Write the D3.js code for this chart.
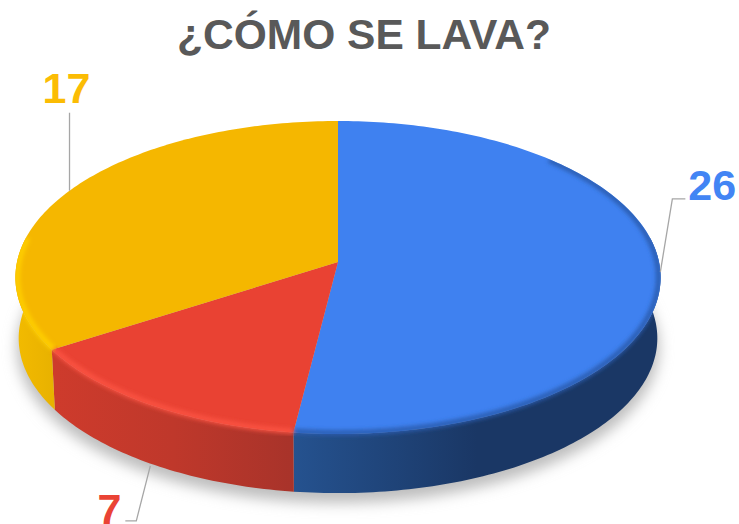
<!DOCTYPE html>
<html>
<head>
<meta charset="utf-8">
<script src="https://cdn.jsdelivr.net/npm/d3@7"></script>
<style>
  html, body { margin: 0; background: #fff; }
  svg { display: block; }
  text { font-family: "Liberation Sans", Arial, sans-serif; font-weight: bold; }
</style>
</head>
<body>
<svg id="chart" width="739" height="524"></svg>
<script>
// Slice values, clockwise from twelve o'clock
const sliceValues = [26, 7, 17];
const titleText = "¿CÓMO SE LAVA?";

// Slice colours: top face, rim highlight, wall gradient, label
const faceColors = ["#3f81f0", "#e94233", "#f5b700"];
const rimColors = ["#2a5cae", "#fb5343", "#ffd000"];
const wallColors = [
  ["#25528f", "#1a3765", "#1a3765"],
  ["#ce3b2c", "#bf382b", "#a8332a"],
  ["#e8b200", "#eeb600", "#f2bb00"]
];
const labelColors = ["#4285f4", "#ea4335", "#fbbc04"];

// Leader elbows and label anchors, relative to each slice's rim point
const leaderSteps = [
  { elbow: [12, -73], end: [25, -73], text: [28, -72], anchor: "start" },
  { elbow: [-14, 55], end: [-25, 55], text: [-29, 58], anchor: "end" },
  { elbow: [0, -78], end: [0, -78], text: [-3, -88], anchor: "middle" }
];

const svg = d3.select("#chart");
const defs = svg.append("defs");
defs.append("filter").attr("id", "shadowBlur")
  .attr("x", "-10%").attr("y", "-10%").attr("width", "120%").attr("height", "130%")
  .append("feGaussianBlur").attr("stdDeviation", 7);
defs.append("filter").attr("id", "rimBlur")
  .attr("x", "-5%").attr("y", "-5%").attr("width", "110%").attr("height", "110%")
  .append("feGaussianBlur").attr("stdDeviation", 2.2);

// Tilted disc: a circle in the plane seen through a simple perspective divide
const perspective = 0.099;
const depth = 61;
const xScale = d3.scaleLinear().domain([-1, 1]).range([338 - 321, 338 + 321]);
const yScale = d3.scaleLinear().domain([-1, 1]).range([262 - 155, 262 + 155]);

function project(angle, radius, drop) {
  const u = Math.sin(angle) * radius;
  const v = -Math.cos(angle) * radius;
  const w = 1 - perspective * v;
  return [xScale(u / w), yScale(v / w) + drop];
}

function rimPoints(a0, a1, radius, drop) {
  const n = Math.max(2, Math.ceil((a1 - a0) / (Math.PI / 180)));
  return d3.range(n + 1).map(i => project(a0 + (a1 - a0) * i / n, radius, drop));
}

const line = d3.line();
const slices = d3.pie().sort(null).value(d => d)(sliceValues);

// Drop shadow under the whole disc
svg.append("path")
  .attr("d", line(rimPoints(0, 2 * Math.PI, 0.995, depth + 9)) + "Z")
  .attr("fill", "#bdbdbd")
  .attr("filter", "url(#shadowBlur)");

// The bevel must stay inside the disc's outline, face plus wall
const wallStart = Math.PI * 0.45;
const wallEnd = Math.PI * 1.55;
defs.append("clipPath").attr("id", "discOutline")
  .selectAll("path")
  .data([
    line(rimPoints(0, 2 * Math.PI, 1, 0)) + "Z",
    line(rimPoints(wallStart, wallEnd, 1, 0).concat(rimPoints(wallStart, wallEnd, 0.99, depth).reverse())) + "Z"
  ])
  .join("path")
  .attr("d", d => d);

// Walls on the near half of the disc
slices.forEach((s, i) => {
  const a0 = Math.max(s.startAngle, wallStart);
  const a1 = Math.min(s.endAngle, wallEnd);
  const upper = rimPoints(a0, a1, 1, 0);
  const lower = rimPoints(a0, a1, 0.99, depth);
  const xs = upper.map(p => p[0]);
  const grad = defs.append("linearGradient")
    .attr("id", "wall" + i).attr("gradientUnits", "userSpaceOnUse")
    .attr("x1", i === 2 ? d3.max(xs) : d3.min(xs)).attr("x2", i === 2 ? d3.min(xs) : d3.max(xs))
    .attr("y1", 0).attr("y2", 0);
  wallColors[i].forEach((c, k) => grad.append("stop").attr("offset", k / 2).attr("stop-color", c));
  svg.append("path")
    .attr("d", line(upper.concat(lower.reverse())) + "Z")
    .attr("fill", `url(#wall${i})`);
});

// Top faces
const facePath = s => line([project(0, 0, 0)].concat(rimPoints(s.startAngle, s.endAngle, 1, 0))) + "Z";
slices.forEach((s, i) => {
  svg.append("path").attr("d", facePath(s)).attr("fill", faceColors[i]);
});

// Soft bevel along the front rim where face meets wall
const bevel = svg.append("g").attr("clip-path", "url(#discOutline)");
slices.forEach((s, i) => {
  const a0 = Math.max(s.startAngle, Math.PI * 0.25);
  const a1 = Math.min(s.endAngle, wallEnd);
  bevel.append("path")
    .attr("d", line(rimPoints(a0, a1, 0.994, 0)))
    .attr("fill", "none")
    .attr("stroke", rimColors[i])
    .attr("stroke-width", 5)
    .attr("filter", "url(#rimBlur)");
});

// Leader lines and value labels
slices.forEach((s, i) => {
  const mid = (s.startAngle + s.endAngle) / 2;
  const nearSide = Math.cos(mid) < -0.5;
  const from = project(mid, 1, nearSide ? depth : 0);
  const step = leaderSteps[i];
  svg.append("path")
    .attr("d", line([
      from,
      [from[0] + step.elbow[0], from[1] + step.elbow[1]],
      [from[0] + step.end[0], from[1] + step.end[1]]
    ]))
    .attr("fill", "none")
    .attr("stroke", "#a6a6a6")
    .attr("stroke-width", 1.3);
  svg.append("text")
    .attr("x", from[0] + step.text[0])
    .attr("y", from[1] + step.text[1])
    .attr("text-anchor", step.anchor)
    .attr("font-size", 43)
    .attr("fill", labelColors[i])
    .text(s.data);
});

// Title
svg.append("text")
  .attr("x", 364).attr("y", 49)
  .attr("text-anchor", "middle")
  .attr("font-size", 42.5)
  .attr("fill", "#595959")
  .text(titleText);
</script>
</body>
</html>
